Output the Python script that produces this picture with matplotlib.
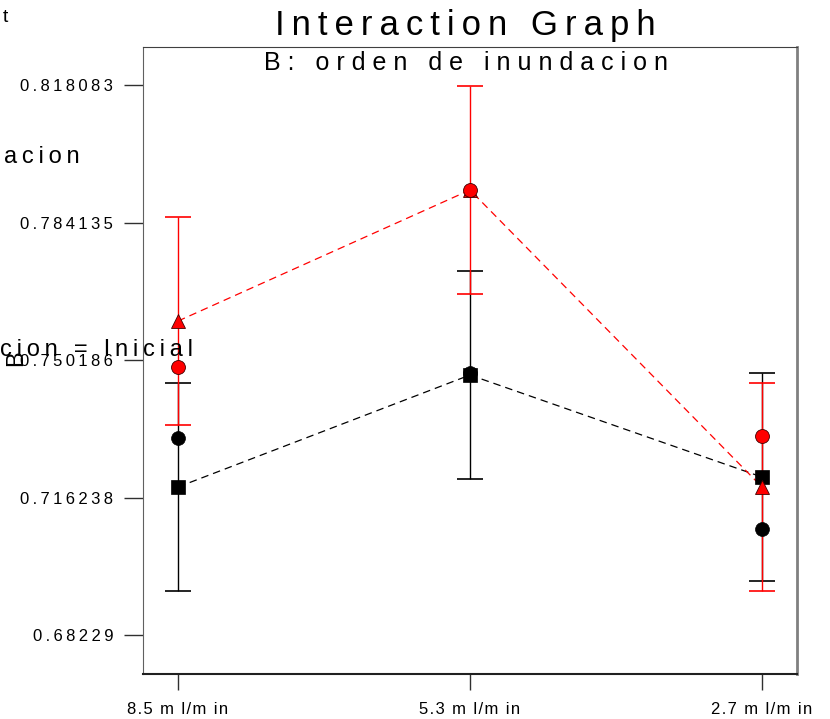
import numpy as np
import matplotlib.pyplot as plt

plt.rcParams['font.family'] = ['Liberation Sans', 'DejaVu Sans']

# niveles del factor A (eje x) y marcas del eje y
levels = ['8.5 m l/m in', '5.3 m l/m in', '2.7 m l/m in']
yticks = [0.68229, 0.716238, 0.750186, 0.784135, 0.818083]

# predicciones (lineas) y puntos de diseno
red_pred = [0.75981, 0.79216, 0.71883]
black_pred = [0.71883, 0.74648, 0.72129]
red_pts = [0.74846, 0.79216, 0.73142]
black_pts = [0.73093, 0.74698, 0.70846]
lsd = 0.02568

THIN = '\u2009'
HAIR = '\u200a'


def spaced(s, sep=THIN):
    return sep.join(s)


x = np.arange(len(levels))

fig = plt.figure(figsize=(8.3, 7.19), dpi=100)
ax = fig.add_axes([143 / 830, 1 - 674 / 719, (797 - 143) / 830, (674 - 47) / 719])

# barras de error (LSD)
ax.errorbar(x, black_pred, yerr=lsd, fmt='none', ecolor='black', elinewidth=1,
            capsize=9.4, capthick=1.2, zorder=2)
ax.errorbar(x, red_pred, yerr=lsd, fmt='none', ecolor='red', elinewidth=1,
            capsize=9.4, capthick=1.2, zorder=3)

# lineas de interaccion
ax.plot(x, black_pred, color='black', ls=(0, (6, 4)), lw=0.9, zorder=4)
ax.plot(x, red_pred, color='red', ls=(0, (6, 4)), lw=0.9, zorder=4)

# puntos
ax.plot(x, black_pts, 'o', color='black', ms=10, mec='black', mew=0.5, zorder=5)
ax.plot(x, black_pred, 's', color='black', ms=10, mec='black', mew=0.5, zorder=6)
ax.plot(x, red_pred, '^', color='red', ms=10, mec='#400000', mew=0.6, zorder=7)
ax.plot(x, red_pts, 'o', color='red', ms=10, mec='#400000', mew=0.6, zorder=8)

ax.set_xlim(-0.12, 2.12)
ax.set_ylim(0.67266, 0.82747)
ax.set_xticks(x)
ax.set_xticklabels([spaced(s, HAIR) for s in levels], fontsize=12)
ax.set_yticks(yticks)
ax.set_yticklabels([spaced(f'{v:g}' if v == 0.68229 else f'{v:.6f}') for v in yticks], fontsize=12)
ax.tick_params(axis='y', length=13.5, width=1, color='#303030', pad=8)
ax.tick_params(axis='x', length=11.5, width=1, color='#303030', pad=8.5)

ax.spines['left'].set_color('#606060')
ax.spines['top'].set_color('#404040')
ax.spines['right'].set_color('#808080')
ax.spines['right'].set_linewidth(2)
ax.spines['bottom'].set_color('#202020')
ax.spines['bottom'].set_linewidth(1.5)

# titulos
fig.text(465 / 830, 1 - 25 / 719, spaced('Interaction') + THIN + ' ' + THIN + spaced('Graph'),
         fontsize=25, ha='center', va='center')
fig.text(466 / 830, 1 - 63 / 719, spaced('B: orden de inundacion', ' '),
         fontsize=18, ha='center', va='center')

# restos de texto de la leyenda lateral
fig.text(3 / 830, 1 - 18 / 719, 't', fontsize=14, ha='left', va='center')
fig.text(4 / 830, 1 - 157 / 719, spaced('acion'), fontsize=17, ha='left', va='center')
fig.text(0 / 830, 1 - 350 / 719, spaced('cion = Inicial'), fontsize=17,
         ha='left', va='center')
fig.text(16 / 830, 1 - 358 / 719, 'B', fontsize=17, rotation=90,
         ha='center', va='center')

fig.savefig('out.png', dpi=100)
